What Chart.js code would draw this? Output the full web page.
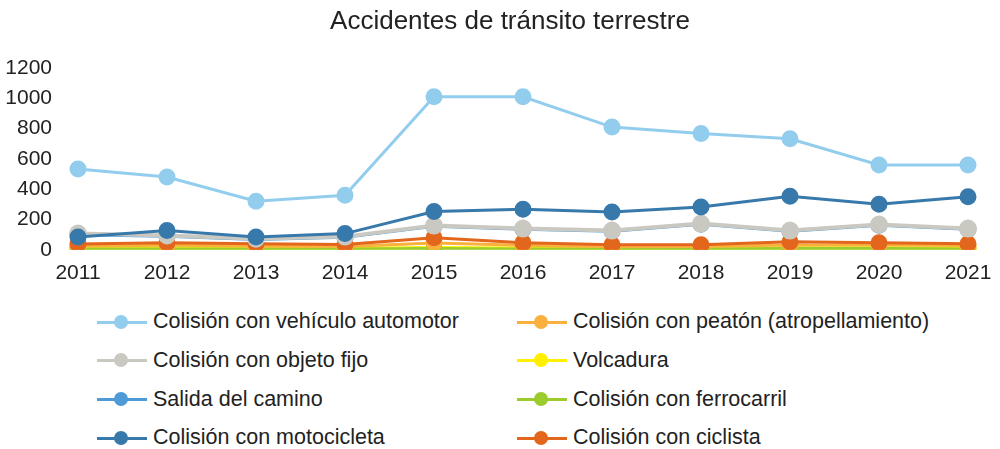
<!DOCTYPE html>
<html>
<head>
<meta charset="utf-8">
<script src="https://cdn.jsdelivr.net/npm/chart.js@4"></script>
<style>
  html, body { margin:0; padding:0; background:#fff; }
  body { width:1000px; height:449px; overflow:hidden; font-family:"Liberation Sans", Arial, sans-serif; position:relative; }
  #wrap { position:relative; width:1000px; height:289px; }
  #title { position:absolute; left:0; top:5px; width:1020px; text-align:center; font-size:26px; line-height:30px; color:#222; z-index:2; }
  #legend { position:absolute; left:97px; top:309px; width:900px; display:grid;
    grid-template-columns: 420px 420px; row-gap:13.8px; }
  .li { display:flex; align-items:center; height:25px; font-size:21.5px; color:#222; white-space:nowrap; }
  .sw { position:relative; width:50px; height:14px; margin-right:6px; flex:none; }
  .sw .ln { position:absolute; left:0; right:0; top:6px; height:3px; }
  .sw .pt { position:absolute; left:17px; top:0; width:14px; height:14px; border-radius:50%; }
</style>
</head>
<body>
<div id="title">Accidentes de tránsito terrestre</div>
<div id="wrap"><canvas id="c" width="1000" height="289"></canvas></div>
<div id="legend"></div>
<script>
const years = ["2011","2012","2013","2014","2015","2016","2017","2018","2019","2020","2021"];
const seriesNames = [
  "Colisión con vehículo automotor",
  "Colisión con peatón (atropellamiento)",
  "Colisión con objeto fijo",
  "Volcadura",
  "Salida del camino",
  "Colisión con ferrocarril",
  "Colisión con motocicleta",
  "Colisión con ciclista"
];
const vehiculo    = [533, 480, 320, 360, 1010, 1010, 810, 767, 733, 560, 560];
const peaton      = [25, 30, 25, 22, 45, 30, 20, 22, 32, 32, 28];
const objetoFijo  = [107, 95, 73, 87, 160, 140, 127, 173, 127, 167, 140];
const volcadura   = [12, 12, 10, 10, 15, 12, 10, 12, 14, 14, 12];
const salida      = [100, 90, 68, 82, 156, 136, 123, 168, 123, 162, 136];
const ferrocarril = [6, 6, 5, 5, 8, 6, 5, 6, 8, 8, 6];
const motocicleta = [85, 127, 85, 107, 253, 267, 250, 283, 353, 300, 350];
const ciclista    = [38, 47, 40, 35, 80, 47, 33, 33, 53, 47, 40];
const yTicks = [0, 200, 400, 600, 800, 1000, 1200];

const colors = ["#93CDEE", "#F9B03D", "#C9C8C1", "#FFF000", "#4E9BD7", "#9BCB2C", "#3879AC", "#E2661C"];
const values = [vehiculo, peaton, objetoFijo, volcadura, salida, ferrocarril, motocicleta, ciclista];
// lower "order" is drawn on top
const drawOrder = [0, 3, 2, 5, 6, 4, 1, 2];

const datasets = seriesNames.map((n, i) => ({
  label: n,
  data: values[i],
  borderColor: colors[i],
  backgroundColor: colors[i],
  pointBackgroundColor: colors[i],
  pointBorderColor: colors[i],
  pointRadius: 7,
  pointHoverRadius: 7,
  borderWidth: i === 2 ? 4 : 3,
  tension: 0,
  order: drawOrder[i]
}));

const FONT = "'Liberation Sans', Arial, sans-serif";

new Chart(document.getElementById("c"), {
  type: "line",
  data: { labels: years, datasets },
  options: {
    responsive: false,
    animation: false,
    events: [],
    layout: { padding: { left: 0, right: 32, top: 68, bottom: 0 } },
    plugins: {
      legend: { display: false },
      tooltip: { enabled: false },
      title: { display: false }
    },
    scales: {
      x: {
        offset: false,
        grid: { display: false },
        border: { display: false },
        ticks: { color: "#222", padding: 3, maxRotation: 0,
          font: { family: FONT, size: 21 } }
      },
      y: {
        min: 0, max: 1200,
        afterBuildTicks: s => { s.ticks = yTicks.map(v => ({ value: v })); },
        afterFit: s => { s.width = 78; },
        grid: { display: false },
        border: { display: false },
        ticks: { color: "#222", padding: 18,
          callback: v => String(v),
          font: { family: FONT, size: 21 } }
      }
    }
  }
});

const lg = document.getElementById("legend");
seriesNames.forEach((n, i) => {
  const d = document.createElement("div");
  d.className = "li";
  d.innerHTML = '<div class="sw"><div class="ln" style="background:' + colors[i] + '"></div><div class="pt" style="background:' + colors[i] + '"></div></div>';
  const t = document.createElement("span");
  t.textContent = n;
  d.appendChild(t);
  lg.appendChild(d);
});
</script>
</body>
</html>
